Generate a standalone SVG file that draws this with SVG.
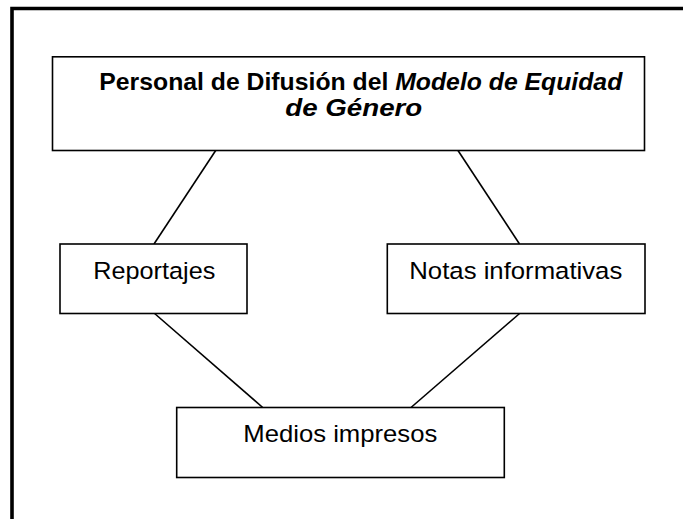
<svg xmlns="http://www.w3.org/2000/svg" width="683" height="519" viewBox="0 0 683 519">
<style>
.box{fill:#fff;stroke:#000;stroke-width:1.6}
.t{font-family:"Liberation Sans",Arial,sans-serif;font-size:24.5px;fill:#000}
.b{font-weight:bold}
.i{font-style:italic}
.c{stroke:#000;stroke-width:1.6;fill:none}
</style>
<rect width="683" height="519" fill="#fff"/>
<path d="M12,521 V8.5 H685" fill="none" stroke="#000" stroke-width="3.6"/>
<g id="connectors">
<line class="c" x1="215.7" y1="150.5" x2="154" y2="244"/>
<line class="c" x1="458" y1="150.5" x2="519.5" y2="244"/>
<line class="c" x1="154.6" y1="313.5" x2="262.7" y2="407.5"/>
<line class="c" x1="519.6" y1="313.5" x2="411" y2="407.5"/>
</g>
<g id="title">
<rect class="box" x="52.5" y="56.8" width="592" height="93.7"/>
<text class="t b" x="99.3" y="89.5" textLength="523" lengthAdjust="spacingAndGlyphs">Personal de Difusión del <tspan class="i">Modelo de Equidad</tspan></text>
<text class="t b i" x="285.3" y="116" textLength="137" lengthAdjust="spacingAndGlyphs">de Género</text>
</g>
<g id="reportajes">
<rect class="box" x="60" y="244" width="187" height="69.5"/>
<text class="t" x="93.3" y="278.5" textLength="122" lengthAdjust="spacingAndGlyphs">Reportajes</text>
</g>
<g id="notas">
<rect class="box" x="387.3" y="244" width="257.7" height="69.5"/>
<text class="t" x="409.3" y="278.5" textLength="213" lengthAdjust="spacingAndGlyphs">Notas informativas</text>
</g>
<g id="medios">
<rect class="box" x="176.7" y="407.5" width="327.6" height="70"/>
<text class="t" x="243.3" y="442" textLength="194" lengthAdjust="spacingAndGlyphs">Medios impresos</text>
</g>
</svg>
